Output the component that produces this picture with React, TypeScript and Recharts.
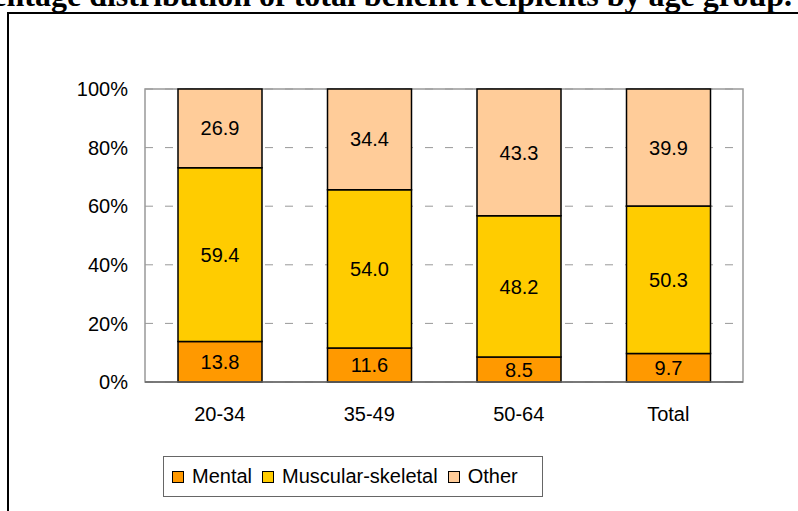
import { Bar, BarChart, CartesianGrid, LabelList, Legend, ReferenceArea, XAxis, YAxis } from 'recharts'

const categories = ['20-34', '35-49', '50-64', 'Total']
const mental = [13.8, 11.6, 8.5, 9.7]
const muscular = [59.4, 54.0, 48.2, 50.3]
const other = [26.9, 34.4, 43.3, 39.9]
const yTicks = [0, 0.2, 0.4, 0.6, 0.8, 1]

const data = categories.map((group, i) => ({
  group,
  mental: mental[i],
  muscular: muscular[i],
  other: other[i],
}))

const font = '"Liberation Sans", Arial, sans-serif'
const textStyle = { fontFamily: font, fontSize: 20, fill: '#000' }
const fmt = (v: unknown) => Number(v).toFixed(1)

function LegendBox({ payload }: { payload?: { value: string; color: string }[] }) {
  return (
    <div
      style={{
        border: '1px solid #666',
        width: 380,
        height: 41,
        boxSizing: 'border-box',
        display: 'flex',
        alignItems: 'center',
        paddingLeft: 8,
        fontFamily: font,
        fontSize: 20,
        color: '#000',
      }}
    >
      {(payload ?? []).map((p) => (
        <span key={p.value} style={{ display: 'flex', alignItems: 'center', marginRight: 10 }}>
          <span
            style={{
              width: 10,
              height: 10,
              background: p.color,
              border: '1.5px solid #000',
              marginRight: 8,
            }}
          />
          {p.value}
        </span>
      ))}
    </div>
  )
}

export default function App() {
  return (
    <div
      style={{
        position: 'fixed',
        left: 0,
        top: 0,
        width: 798,
        height: 511,
        overflow: 'hidden',
        background: '#fff',
      }}
    >
      <svg width={798} height={511} style={{ position: 'absolute', left: 0, top: 0 }}>
        <text
          x={792}
          y={6}
          textAnchor="end"
          style={{ fontFamily: '"Liberation Serif", serif', fontWeight: 'bold', fontSize: 32 }}
        >
          Percentage distribution of total benefit recipients by age group.
        </text>
        <rect x={8} y={13} width={900} height={600} fill="none" stroke="#000" strokeWidth={2} />
      </svg>
      <div style={{ position: 'absolute', left: 0, top: 0 }}>
        <BarChart
          width={798}
          height={511}
          data={data}
          stackOffset="expand"
          margin={{ top: 89, right: 55, bottom: 99, left: 0 }}
        >
          <CartesianGrid vertical={false} stroke="#999" strokeDasharray="8 12" />
          <ReferenceArea y1={0} y2={1} fill="none" stroke="#999" strokeWidth={1.5} />
          <XAxis
            dataKey="group"
            tickLine={false}
            axisLine={{ stroke: '#666', strokeWidth: 1.5 }}
            tickMargin={19}
            tick={textStyle}
          />
          <YAxis
            width={145}
            ticks={yTicks}
            domain={[0, 1]}
            tickFormatter={(v) => `${Math.round(v * 100)}%`}
            tickLine={false}
            axisLine={false}
            tickMargin={11}
            tick={textStyle}
          />
          <Legend
            layout="horizontal"
            verticalAlign="middle"
            align="center"
            wrapperStyle={{ position: 'absolute', left: 163, top: 456, width: 380 }}
            content={(props) => <LegendBox payload={props.payload as any} />}
          />
          <Bar dataKey="mental" name="Mental" stackId="a" fill="#FF9900" stroke="#000" strokeWidth={1.5} barSize={84} isAnimationActive={false}>
            <LabelList dataKey="mental" position="center" formatter={fmt} style={textStyle} />
          </Bar>
          <Bar dataKey="muscular" name="Muscular-skeletal" stackId="a" fill="#FFCC00" stroke="#000" strokeWidth={1.5} barSize={84} isAnimationActive={false}>
            <LabelList dataKey="muscular" position="center" formatter={fmt} style={textStyle} />
          </Bar>
          <Bar dataKey="other" name="Other" stackId="a" fill="#FFCC99" stroke="#000" strokeWidth={1.5} barSize={84} isAnimationActive={false}>
            <LabelList dataKey="other" position="center" formatter={fmt} style={textStyle} />
          </Bar>
        </BarChart>
      </div>
    </div>
  )
}
